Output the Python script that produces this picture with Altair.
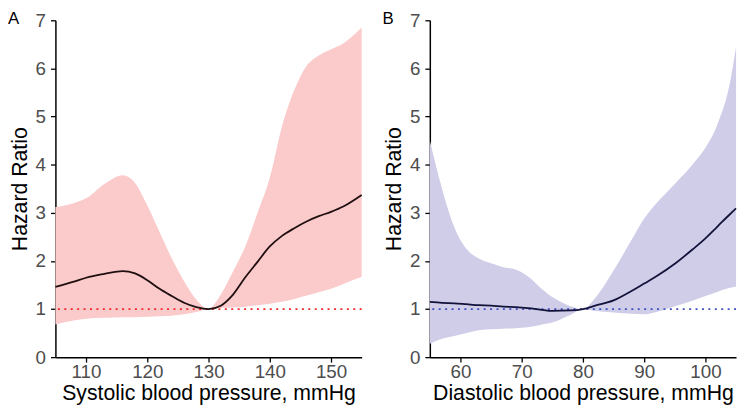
import altair as alt
import pandas as pd

# Panel A: systolic blood pressure
sbp_x = [105, 108, 110, 113, 116, 118, 120, 122, 124, 126, 128, 130, 132, 134, 136, 138, 140, 142, 144, 146, 148, 150, 152, 155]
sbp_hr = [1.46, 1.57, 1.65, 1.73, 1.79, 1.74, 1.60, 1.42, 1.27, 1.13, 1.04, 1.00, 1.07, 1.30, 1.66, 1.98, 2.30, 2.52, 2.68, 2.82, 2.93, 3.02, 3.13, 3.37]
sbp_hi = [3.12, 3.20, 3.30, 3.60, 3.78, 3.62, 3.15, 2.60, 2.05, 1.58, 1.20, 1.00, 1.30, 1.78, 2.30, 3.00, 3.73, 4.80, 5.55, 6.05, 6.27, 6.40, 6.52, 6.85]
sbp_lo = [0.68, 0.76, 0.80, 0.82, 0.83, 0.83, 0.84, 0.85, 0.86, 0.89, 0.94, 1.00, 1.02, 1.03, 1.05, 1.08, 1.11, 1.15, 1.21, 1.28, 1.35, 1.42, 1.52, 1.67]

# Panel B: diastolic blood pressure
dbp_x = [55, 57, 59, 61, 63, 65, 67, 69, 71, 73, 75, 78, 80, 82, 85, 88, 90, 92, 95, 98, 100, 102, 104, 105]
dbp_hr = [1.15, 1.13, 1.12, 1.10, 1.08, 1.07, 1.05, 1.04, 1.02, 0.99, 0.96, 0.97, 1.00, 1.07, 1.18, 1.38, 1.53, 1.68, 1.94, 2.25, 2.47, 2.72, 2.97, 3.09]
dbp_hi = [4.50, 3.50, 2.70, 2.25, 2.05, 1.95, 1.87, 1.82, 1.68, 1.45, 1.25, 1.06, 1.00, 1.23, 1.80, 2.45, 2.88, 3.20, 3.60, 4.02, 4.35, 4.85, 5.70, 6.45]
dbp_lo = [0.28, 0.38, 0.44, 0.50, 0.56, 0.58, 0.59, 0.60, 0.62, 0.67, 0.72, 0.88, 1.00, 0.96, 0.93, 0.90, 0.89, 0.94, 1.06, 1.18, 1.27, 1.36, 1.44, 1.47]

y_ticks = [0, 1, 2, 3, 4, 5, 6, 7]
sbp_ticks = [110, 120, 130, 140, 150]
dbp_ticks = [60, 70, 80, 90, 100]

FONT = "Liberation Sans"
W, H = 310, 341

AX = dict(
    grid=False,
    domainColor="black",
    domainWidth=1.5,
    tickColor="black",
    tickWidth=1.3,
    tickSize=5,
    labelFont=FONT,
    labelFontSize=19,
    labelColor="#4d4d4d",
    titleFont=FONT,
    titleFontSize=21.5,
    titleFontWeight="normal",
    titleColor="black",
)


def panel(xs, hr, lo, hi, xdom, xticks, xtitle, fill, line_col, ref_col, letter):
    df = pd.DataFrame({"x": xs, "hr": hr, "lo": lo, "hi": hi})
    xaxis = alt.Axis(values=xticks, labelPadding=1, titlePadding=1, **AX)
    yaxis = alt.Axis(values=y_ticks, labelPadding=5, titlePadding=4, **AX)
    xenc = alt.X("x:Q", title=xtitle,
                 scale=alt.Scale(domain=xdom, nice=False, zero=False), axis=xaxis)
    yscale = alt.Scale(domain=[0, 7], nice=False)
    base = alt.Chart(df)
    area = base.mark_area(color=fill, opacity=1, interpolate="monotone").encode(
        x=xenc,
        y=alt.Y("lo:Q", title="Hazard Ratio", scale=yscale, axis=yaxis),
        y2="hi:Q",
    )
    rule = alt.Chart(pd.DataFrame({"v": [1]})).mark_rule(
        color=ref_col, strokeDash=[2, 4.5], strokeWidth=1.8
    ).encode(y=alt.Y("v:Q", title="Hazard Ratio", scale=yscale, axis=yaxis))
    line = base.mark_line(color=line_col, strokeWidth=1.8, interpolate="monotone").encode(
        x=xenc,
        y=alt.Y("hr:Q", title="Hazard Ratio", scale=yscale, axis=yaxis),
    )
    lab = alt.Chart(pd.DataFrame({"t": [letter]})).mark_text(
        align="left", baseline="top", fontSize=17, font=FONT, color="black"
    ).encode(x=alt.value(-48), y=alt.value(-9), text="t:N")
    return alt.layer(area, rule, line, lab).properties(width=W, height=H)


a = panel(sbp_x, sbp_hr, sbp_lo, sbp_hi, [105, 155], sbp_ticks,
          "Systolic blood pressure, mmHg", "#FBCACA", "#1f0f10", "#F02828", "A")
b = panel(dbp_x, dbp_hr, dbp_lo, dbp_hi, [55, 105], dbp_ticks,
          "Diastolic blood pressure, mmHg", "#CFCDE8", "#12123a", "#3F4FC0", "B")

chart = alt.hconcat(a, b, spacing=17).configure_view(stroke=None).properties(
    padding=0, background="white"
)

chart.save("out.html", embed_options={"renderer": "svg", "actions": False})
